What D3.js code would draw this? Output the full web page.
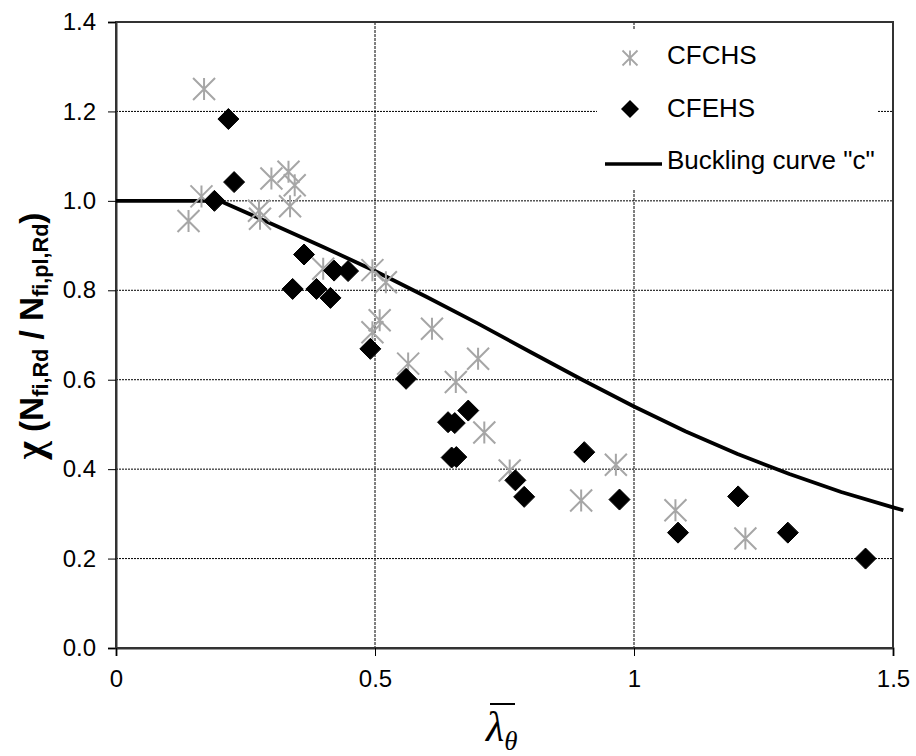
<!DOCTYPE html>
<html>
<head>
<meta charset="utf-8">
<script src="https://cdn.jsdelivr.net/npm/d3@7"></script>
<style>
  html, body { margin: 0; padding: 0; background: #fff; }
  svg { display: block; }
</style>
</head>
<body>
<svg id="chart" width="916" height="756"></svg>
<script>
// ---- data ----
const cfchsX = [0.17, 0.165, 0.14, 0.30, 0.333, 0.345, 0.336, 0.276, 0.278, 0.40, 0.495, 0.521, 0.509, 0.495, 0.61, 0.564, 0.699, 0.656, 0.711, 0.76, 0.898, 0.965, 1.08, 1.215];
const cfchsY = [1.25, 1.01, 0.955, 1.05, 1.065, 1.035, 0.988, 0.978, 0.96, 0.848, 0.845, 0.818, 0.733, 0.706, 0.714, 0.636, 0.647, 0.595, 0.482, 0.397, 0.33, 0.41, 0.308, 0.245];
const cfehsX = [0.217, 0.228, 0.19, 0.363, 0.421, 0.448, 0.341, 0.387, 0.414, 0.491, 0.56, 0.68, 0.641, 0.654, 0.648, 0.657, 0.771, 0.788, 0.904, 0.972, 1.085, 1.201, 1.297, 1.447];
const cfehsY = [1.183, 1.042, 1.0, 0.88, 0.844, 0.843, 0.803, 0.803, 0.783, 0.669, 0.602, 0.531, 0.505, 0.503, 0.426, 0.427, 0.375, 0.338, 0.438, 0.332, 0.258, 0.339, 0.258, 0.2];
const curveX = [0, 0.1, 0.2, 0.3, 0.4, 0.5, 0.6, 0.7, 0.8, 0.9, 1.0, 1.1, 1.2, 1.3, 1.4, 1.5, 1.52];
const curveY = [1.0, 1.0, 1.0, 0.949, 0.897, 0.843, 0.785, 0.725, 0.662, 0.600, 0.540, 0.484, 0.434, 0.389, 0.349, 0.3145, 0.308];
const xTicks = [0, 0.5, 1, 1.5];
const xTickLabels = ["0", "0.5", "1", "1.5"];
const yTicks = [0, 0.2, 0.4, 0.6, 0.8, 1.0, 1.2, 1.4];
const yTickLabels = ["0.0", "0.2", "0.4", "0.6", "0.8", "1.0", "1.2", "1.4"];
const legendLabels = ["CFCHS", "CFEHS", "Buckling curve \"c\""];

// ---- layout ----
const L = 116, R = 893, T = 22, B = 648;
const svg = d3.select("#chart");
const x = d3.scaleLinear().domain([0, 1.5]).range([L, R]);
const y = d3.scaleLinear().domain([0, 1.4]).range([B, T]);
const sans = "'Liberation Sans', Arial, Helvetica, sans-serif";
const grey = "#a6a6a6";

// gridlines
svg.append("g").selectAll("line.h").data(yTicks.filter(v => v > 0 && v < 1.4)).join("line")
  .attr("x1", L).attr("x2", R).attr("y1", d => y(d)).attr("y2", d => y(d))
  .attr("stroke", "#000").attr("stroke-width", 1).attr("stroke-dasharray", "2,1");
svg.append("g").selectAll("line.v").data(xTicks.filter(v => v > 0 && v < 1.5)).join("line")
  .attr("x1", d => x(d)).attr("x2", d => x(d)).attr("y1", T).attr("y2", B)
  .attr("stroke", "#000").attr("stroke-width", 1).attr("stroke-dasharray", "3,1");

// legend background (covers grid)
svg.append("rect").attr("x", 597).attr("y", 30).attr("width", 281).attr("height", 160).attr("fill", "#fff");

// frame
svg.append("rect").attr("x", L).attr("y", T).attr("width", R - L).attr("height", B - T)
  .attr("fill", "none").attr("stroke", "#333").attr("stroke-width", 2);

// axes
const yAxis = d3.axisLeft(y).tickValues(yTicks).tickFormat((d, i) => yTickLabels[i]).tickSize(8).tickPadding(12);
const gy = svg.append("g").attr("transform", `translate(${L},0)`).call(yAxis);
const xAxis = d3.axisBottom(x).tickValues(xTicks).tickFormat((d, i) => xTickLabels[i]).tickSize(8).tickPadding(14);
const gx = svg.append("g").attr("transform", `translate(0,${B})`).call(xAxis);
[gx, gy].forEach(g => {
  g.select(".domain").attr("stroke", "#333").attr("stroke-width", 2);
  g.selectAll(".tick line").attr("stroke", "#000").attr("stroke-width", 1);
  g.selectAll(".tick text").attr("font-family", sans).attr("font-size", 24).attr("fill", "#000");
});

// curve
const line = d3.line().x(d => x(d[0])).y(d => y(d[1]));
svg.append("path").datum(curveX.map((v, i) => [v, curveY[i]]))
  .attr("d", line).attr("fill", "none").attr("stroke", "#000").attr("stroke-width", 3.8)
  .attr("stroke-linejoin", "round");

// markers
function star(s) {
  return `M${-s},${-s}L${s},${s}M${-s},${s}L${s},${-s}M0,${-s}L0,${s}`;
}
function diamond(s) {
  return `M0,${-s}L${s},0L0,${s}L${-s},0Z`;
}
svg.append("g").selectAll("path").data(cfchsX.map((v, i) => [v, cfchsY[i]])).join("path")
  .attr("transform", d => `translate(${x(d[0])},${y(d[1])})`)
  .attr("d", star(11)).attr("fill", "none").attr("stroke", grey).attr("stroke-width", 2);
svg.append("g").selectAll("path").data(cfehsX.map((v, i) => [v, cfehsY[i]])).join("path")
  .attr("transform", d => `translate(${x(d[0])},${y(d[1])})`)
  .attr("d", diamond(10.5)).attr("fill", "#000").attr("stroke", "#000").attr("stroke-width", 1);

// legend
const lg = svg.append("g");
lg.append("path").attr("transform", "translate(630,58)").attr("d", star(7.5))
  .attr("fill", "none").attr("stroke", grey).attr("stroke-width", 1.8);
lg.append("path").attr("transform", "translate(630,109)").attr("d", diamond(9))
  .attr("fill", "#000");
lg.append("line").attr("x1", 605).attr("x2", 662).attr("y1", 164).attr("y2", 164)
  .attr("stroke", "#000").attr("stroke-width", 3.5);
lg.selectAll("text").data(legendLabels).join("text")
  .attr("x", 667).attr("y", (d, i) => 64 + i * 52.5)
  .attr("font-family", sans).attr("font-size", 26).attr("fill", "#000")
  .text(d => d);

// y axis title
const yt = svg.append("text")
  .attr("text-anchor", "middle")
  .attr("font-family", sans).attr("font-weight", "bold").attr("font-size", 34).attr("fill", "#000");
yt.append("tspan").attr("font-family", "'Liberation Serif', 'DejaVu Serif', serif").attr("font-weight", "bold").attr("font-size", 40).text("χ");
yt.append("tspan").text(" (N");
yt.append("tspan").attr("font-size", 22).attr("dy", 5).text("fi,Rd");
yt.append("tspan").attr("dy", -5).text(" / N");
yt.append("tspan").attr("font-size", 22).attr("dy", 5).text("fi,pl,Rd");
yt.append("tspan").attr("dy", -5).text(")");
const ytLen = yt.node().getComputedTextLength();
const ytTarget = 247;
yt.attr("transform", `translate(43,336) rotate(-90) scale(${ytTarget / ytLen},1)`);

// x axis title
const xt = svg.append("text").attr("x", 486).attr("y", 741)
  .attr("font-family", "'Liberation Serif', 'Times New Roman', serif").attr("font-style", "italic")
  .attr("font-size", 42).attr("fill", "#000");
xt.append("tspan").text("λ");
xt.append("tspan").attr("font-size", 27).attr("dy", 9).text("θ");
svg.append("line").attr("x1", 490).attr("x2", 515).attr("y1", 704).attr("y2", 704)
  .attr("stroke", "#000").attr("stroke-width", 2);
</script>
</body>
</html>
